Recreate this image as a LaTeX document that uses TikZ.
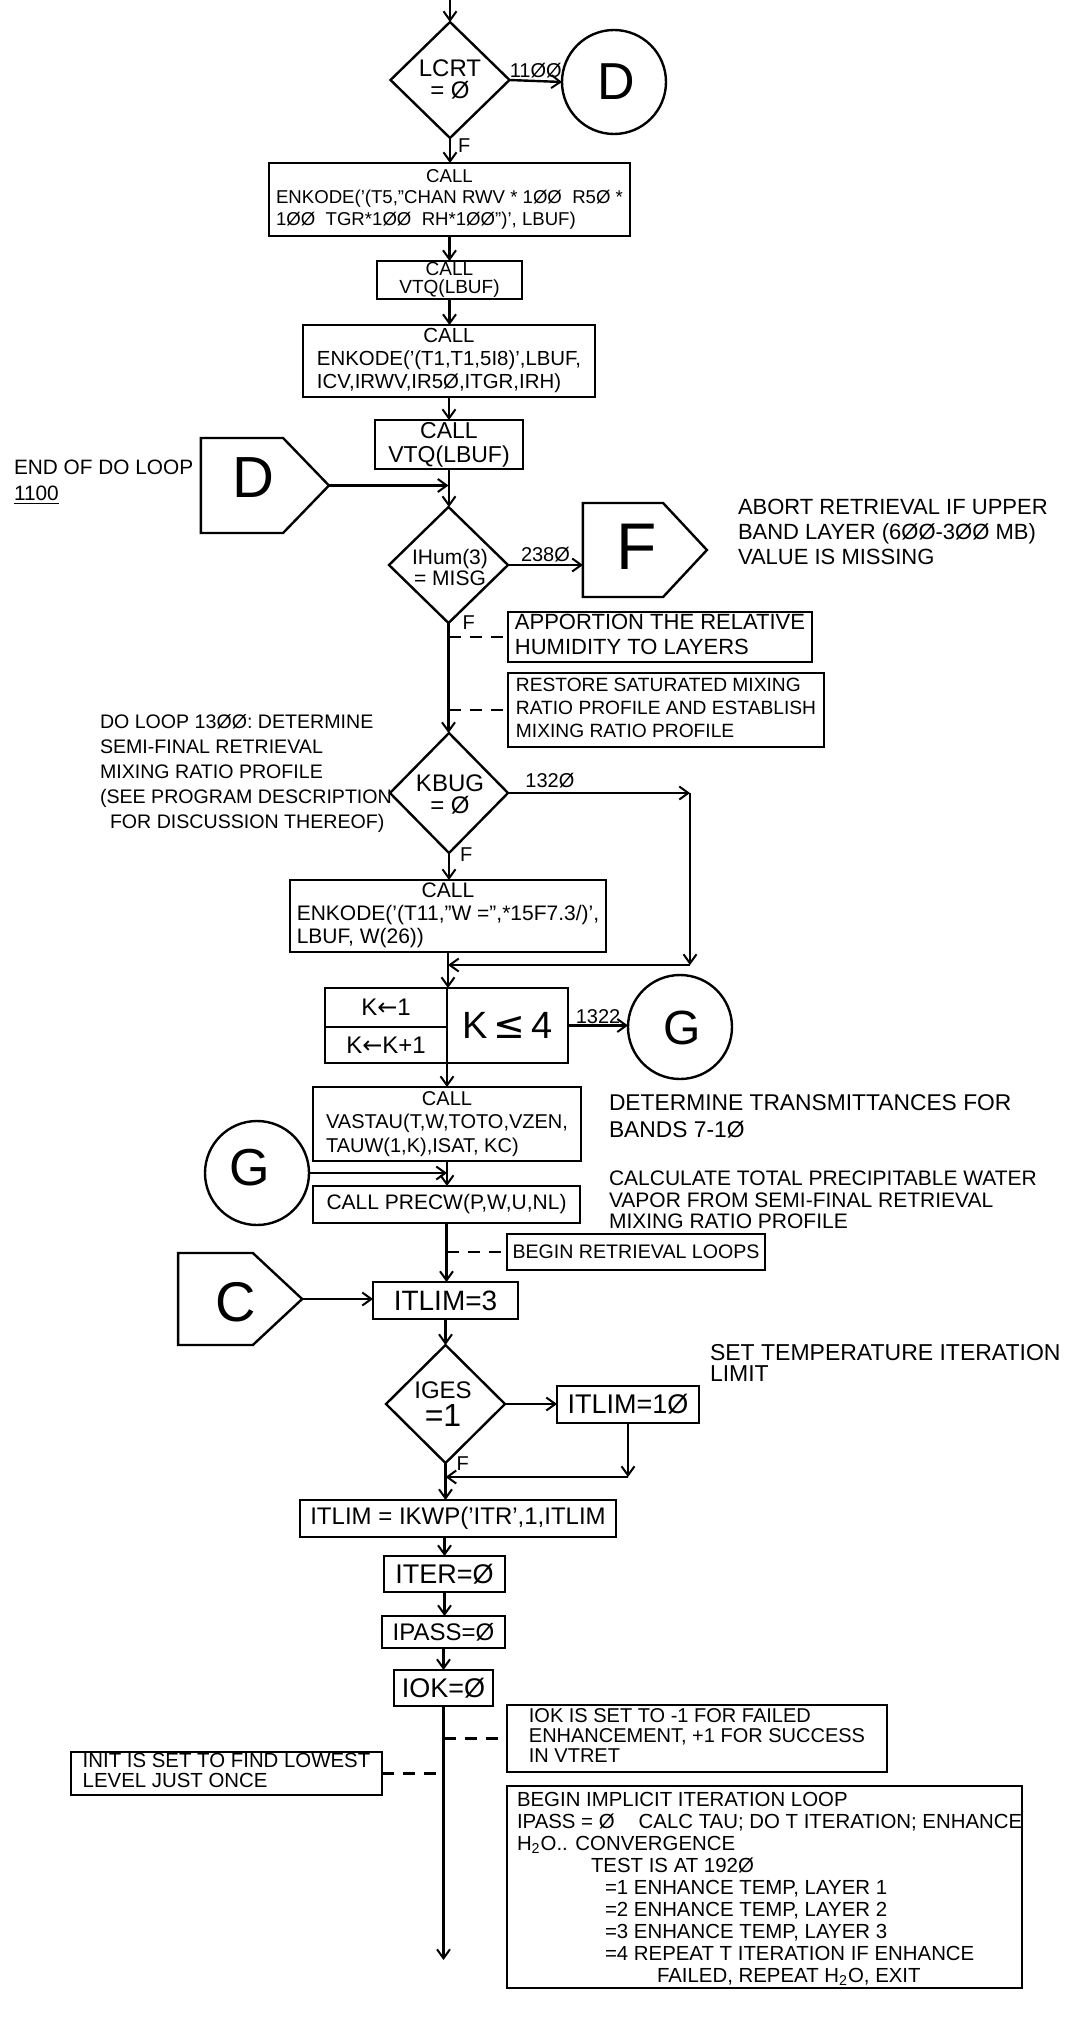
\documentclass[tikz,border=0pt]{standalone}
\usepackage{fontspec}
\setmainfont{Liberation Sans}
\newfontfamily\symf{DejaVu Sans}
\usetikzlibrary{arrows.meta,shapes.geometric,shapes.symbols}
\newcommand\fsz[2]{\fontsize{#1}{#2}\selectfont}
\newcommand\ctrline[1]{\multicolumn{1}{@{}c@{}}{#1}}
\newcommand\boxlines[1]{\begin{tabular}{@{}l@{}}#1\end{tabular}}

\begin{document}
\begin{tikzpicture}[x=0.5pt,y=-0.5pt,line width=1.2pt,
  every node/.style={inner sep=0pt,outer sep=0pt},
  box/.style={draw,rectangle},
  dia/.style={draw,diamond},
  pent/.style={draw,signal,signal to=east},
  conn/.style={draw,circle},
  dtxt/.style={align=center,font=\fsz{12}{11}},
  lab/.style={font=\fsz{10}{10}},
  note/.style={anchor=north west,align=left},
  arr/.style={-{Straight Barb[length=4.5pt,width=6.5pt,line width=1pt]}},
  dashln/.style={dash pattern=on 6pt off 4.5pt}]
\fill[white] (0,0) rectangle (1072,2028);
\useasboundingbox (0,0) rectangle (1072,2028);

% ---- entry test on LCRT
\coordinate (start) at (450,0);
\node[dia,minimum width=59.5pt,minimum height=58pt] (lcrt) at (450,80) {};
\node[dtxt] (lcrt-t) at (450,79) {LCRT\\= Ø};
\node[conn,minimum size=52pt] (dcirc) at (614,82) {};
\node[font=\fsz{26}{26}] (dcirc-t) at (616,82) {D};
\draw[arr] (start) -- (lcrt.north);
\draw[arr] (lcrt.east) -- node[lab,above=1.5pt] (l1100) {11ØØ} (dcirc.west);

% ---- first ENKODE / VTQ pair
\node[box,minimum width=180.5pt,minimum height=36.5pt,font=\fsz{9.3}{10.75}] (enk1) at (449.5,199.5)
  {\boxlines{\ctrline{CALL}\\ENKODE('(T5,"CHAN RWV * 1ØØ\ \ R5Ø *\\1ØØ\ \ TGR*1ØØ\ \ RH*1ØØ")', LBUF)}};
\draw[arr] (lcrt.south) -- (lcrt.south |- enk1.north);
\node[lab,anchor=west] (lf1) at ([shift={(8,8)}]lcrt.south) {F};
\node[box,minimum width=72.5pt,minimum height=19pt,align=center,font=\fsz{9.5}{9.3}] (vtq1) at (449.5,280) {CALL\\VTQ(LBUF)};
\draw[arr] (enk1.south) -- (vtq1.north);
\node[box,minimum width=146pt,minimum height=36pt,font=\fsz{10.2}{11.5}] (enk2) at (449,361)
  {\boxlines{\ctrline{CALL}\\ENKODE('(T1,T1,5I8)',LBUF,\\ICV,IRWV,IR5Ø,ITGR,IRH)}};
\draw[arr] (vtq1.south) -- (vtq1.south |- enk2.north);
\node[box,minimum width=74pt,minimum height=24.5pt,align=center,font=\fsz{11.5}{12}] (vtq2) at (449,444.5) {CALL\\VTQ(LBUF)};
\draw[arr] (enk2.south) -- (enk2.south |- vtq2.north);

% ---- return point D
\node[note,font=\fsz{10.4}{13}] (endnote) at (14,460) {END OF DO LOOP\\\underline{1100}};
\node[pent,minimum width=64pt,minimum height=47.5pt,signal pointer angle=92] (dpent) at (242,485.5) {};
\node[font=\fsz{29}{29}] (dpent-t) at (253,478) {D};

% ---- humidity test
\node[dia,minimum width=59.5pt,minimum height=58pt] (ihum) at (448.5,565) {};
\node[dtxt,font=\fsz{10.5}{10.5}] (ihum-t) at (450,567) {IHum(3)\\= MISG};
\draw[arr] (vtq2.south) -- (vtq2.south |- ihum.north);
\draw[arr] (dpent.east) -- (dpent.east -| ihum.north);
\node[pent,minimum width=62pt,minimum height=47pt,signal pointer angle=94] (fpent) at (623,550) {};
\node[font=\fsz{33}{33}] (fpent-t) at (637,547) {F};
\draw[arr] (ihum.east) -- node[lab,above=1.5pt] (l2380) {238Ø} (ihum.east -| fpent.west);
\node[note,font=\fsz{11}{12.5}] (abort) at (738,499) {ABORT RETRIEVAL IF UPPER\\BAND LAYER (6ØØ-3ØØ MB)\\VALUE IS MISSING};
\node[lab,anchor=west] (lf2) at ([shift={(14,0)}]ihum.south) {F};

\node[box,minimum width=152pt,minimum height=25pt,font=\fsz{11}{12.3}] (appor) at (660,637)
  {\boxlines{APPORTION THE RELATIVE\\HUMIDITY TO LAYERS}};
\node[box,minimum width=158pt,minimum height=37pt,font=\fsz{9.6}{11.3}] (resto) at (666,710)
  {\boxlines{RESTORE SATURATED MIXING\\RATIO PROFILE AND ESTABLISH\\MIXING RATIO PROFILE}};
\coordinate (m1) at (appor.west -| ihum.south);
\coordinate (m2) at (resto.west -| ihum.south);
\draw[dashln] (m1) -- (appor.west);
\draw[dashln] (m2) -- (resto.west);

% ---- DO loop 1300
\node[note,font=\fsz{9.8}{12.5}] (doloop) at (100,714) {DO LOOP 13ØØ: DETERMINE\\SEMI-FINAL RETRIEVAL\\MIXING RATIO PROFILE\\(SEE PROGRAM DESCRIPTION\\\hspace{5pt}FOR DISCUSSION THEREOF)};
\node[dia,minimum width=59pt,minimum height=60pt] (kbug) at (449,793) {};
\node[dtxt] (kbug-t) at (450,794) {KBUG\\= Ø};
\draw[arr] (ihum.south) -- (ihum.south |- kbug.north);
\node[box,minimum width=158pt,minimum height=36pt,font=\fsz{10.5}{11.5}] (enk3) at (448,916)
  {\boxlines{\ctrline{CALL}\\ENKODE('(T11,"W =",*15F7.3/)',\\LBUF, W(26))}};
\draw[arr] (kbug.south) -- (kbug.south |- enk3.north);
\node[lab,anchor=west] (lf3) at ([shift={(11,2)}]kbug.south) {F};
\coordinate (k1) at (kbug.east -| 690,0);
\coordinate (k2) at (690,965);
\coordinate (k3) at (k2 -| enk3.south);
\draw[arr] (kbug.east) -- node[lab,above=2.5pt,pos=0.23] (l1320) {132Ø} (k1);
\draw[arr] (k1) -- (k2);
\draw[arr] (k2) -- (k3);

% ---- band loop K = 1..4
\node[box,minimum width=61pt,minimum height=19.5pt,font=\fsz{12}{12}] (kinit) at (386,1007.5) {K{\symf←}1};
\node[box,minimum width=61pt,minimum height=18pt,font=\fsz{12}{12}] (kinc) at (386,1045) {K{\symf←}K+1};
\node[box,minimum width=60.5pt,minimum height=37.5pt,font=\fsz{19}{19}] (kcond) at (507.5,1025.5) {K\,{\symf≤}\,4};
\draw[arr] (enk3.south) -- (enk3.south |- kinit.north);
\node[conn,minimum size=52pt] (g1) at (680,1027) {};
\node[font=\fsz{24}{24}] (g1-t) at (682,1028) {G};
\draw[arr] (kcond.east) -- node[lab,above=1pt] (l1322) {1322} (kcond.east -| g1.west);
\node[box,minimum width=134pt,minimum height=37pt,font=\fsz{10}{11.8}] (vast) at (447,1124)
  {\boxlines{\ctrline{CALL}\\VASTAU(T,W,TOTO,VZEN,\\TAUW(1,K),ISAT, KC)}};
\draw[arr] (kcond.south west) -- (kcond.south west |- vast.north);
\node[note,font=\fsz{11.4}{13.5}] (detnote) at (609,1095) {DETERMINE TRANSMITTANCES FOR\\BANDS 7-1Ø};

% ---- precipitable water
\node[conn,minimum size=52pt] (g2) at (257,1173) {};
\node[font=\fsz{26}{26}] (g2-t) at (250,1168) {G};
\node[box,minimum width=133.5pt,minimum height=18.5pt,font=\fsz{10.5}{12}] (prec) at (446.5,1204.5) {CALL PRECW(P,W,U,NL)};
\draw[arr] (vast.south) -- (vast.south |- prec.north);
\coordinate (m3) at (g2.east -| vast.south);
\draw[arr] (g2.east) -- (m3);
\node[note,font=\fsz{10.5}{10.7}] (calcnote) at (609,1171) {CALCULATE TOTAL PRECIPITABLE WATER\\VAPOR FROM SEMI-FINAL RETRIEVAL\\MIXING RATIO PROFILE};

% ---- retrieval loops
\node[box,minimum width=129pt,minimum height=18pt,font=\fsz{9.8}{12}] (beginl) at (636,1252) {BEGIN RETRIEVAL LOOPS};
\node[box,minimum width=72.5pt,minimum height=18.5pt,font=\fsz{14}{14}] (itl3) at (445.5,1300.5) {ITLIM=3};
\draw[arr] (prec.south) -- (prec.south |- itl3.north);
\coordinate (m4) at (beginl.west -| prec.south);
\draw[dashln] (m4) -- (beginl.west);
\node[pent,minimum width=62pt,minimum height=46pt,signal pointer angle=86] (cpent) at (215.5,1299) {};
\node[font=\fsz{28}{28}] (cpent-t) at (236,1302) {C};
\draw[arr] (cpent.east) -- (cpent.east -| itl3.west);

\node[dia,minimum width=59.5pt,minimum height=59pt] (iges) at (445.5,1404) {};
\node[dtxt,font=\fsz{12}{14}] (iges-t) at (443,1404) {IGES\\{\fsz{16}{16}=1}};
\draw[arr] (itl3.south) -- (itl3.south |- iges.north);
\node[note,font=\fsz{11.5}{10.5}] (setnote) at (710,1344) {SET TEMPERATURE ITERATION\\LIMIT};
\node[box,minimum width=71pt,minimum height=18.5pt,font=\fsz{13.5}{14}] (itl10) at (628,1404.5) {ITLIM=1Ø};
\draw[arr] (iges.east) -- (iges.east -| itl10.west);
\coordinate (j1) at (itl10.south |- 0,1477);
\coordinate (j2) at (j1 -| iges.south);
\draw[arr] (itl10.south) -- (j1);
\draw[arr] (j1) -- (j2);

\node[box,minimum width=158pt,minimum height=18.5pt,font=\fsz{12}{14}] (ikwp) at (458,1518.5) {ITLIM = IKWP('ITR',1,ITLIM};
\draw[arr] (iges.south) -- (iges.south |- ikwp.north);
\node[lab,anchor=west] (lf4) at ([shift={(11,1)}]iges.south) {F};

% ---- counters
\node[box,minimum width=60.5pt,minimum height=18pt,font=\fsz{13.5}{14}] (iter) at (444.5,1574) {ITER=Ø};
\node[box,minimum width=61.5pt,minimum height=16pt,font=\fsz{12}{14}] (ipass) at (443.5,1632) {IPASS=Ø};
\node[box,minimum width=49.5pt,minimum height=18pt,font=\fsz{13.5}{14}] (iok) at (443.5,1688) {IOK=Ø};
\draw[arr] (ikwp.south -| iter.north) -- (iter.north);
\draw[arr] (iter.south) -- (iter.south |- ipass.north);
\draw[arr] (ipass.south) -- (ipass.south |- iok.north);
\coordinate (fin) at (iok.south |- 0,1960);
\draw[arr] (iok.south) -- (fin);

\node[box,minimum width=190pt,minimum height=33.5pt,font=\fsz{10}{9.9}] (iokset) at (697,1738.5)
  {\boxlines{IOK IS SET TO -1 FOR FAILED\\ENHANCEMENT, +1 FOR SUCCESS\\IN VTRET}};
\coordinate (m5) at (iokset.west -| iok.south);
\draw[dashln] (m5) -- (iokset.west);
\node[box,minimum width=155.5pt,minimum height=21.5pt,font=\fsz{10.2}{9.6}] (init) at (226.5,1773.5)
  {\boxlines{INIT IS SET TO FIND LOWEST\\LEVEL JUST ONCE}};
\coordinate (m6) at (init.east -| iok.south);
\draw[dashln] (init.east) -- (m6);

\node[box,minimum width=257.5pt,minimum height=101pt] (impl) at (764.5,1887) {};
\node[note,font=\fsz{10.2}{11}] (impl-t) at (517,1792) {BEGIN IMPLICIT ITERATION LOOP\\
IPASS = Ø\hspace{12pt}CALC TAU; DO T ITERATION; ENHANCE\\
H\textsubscript{2}O.. CONVERGENCE\\
\hspace{37pt}TEST IS AT 192Ø\\
\hspace{44pt}=1 ENHANCE TEMP, LAYER 1\\
\hspace{44pt}=2 ENHANCE TEMP, LAYER 2\\
\hspace{44pt}=3 ENHANCE TEMP, LAYER 3\\
\hspace{44pt}=4 REPEAT T ITERATION IF ENHANCE\\
\hspace{70pt}FAILED, REPEAT H\textsubscript{2}O, EXIT};
\end{tikzpicture}
\end{document}
